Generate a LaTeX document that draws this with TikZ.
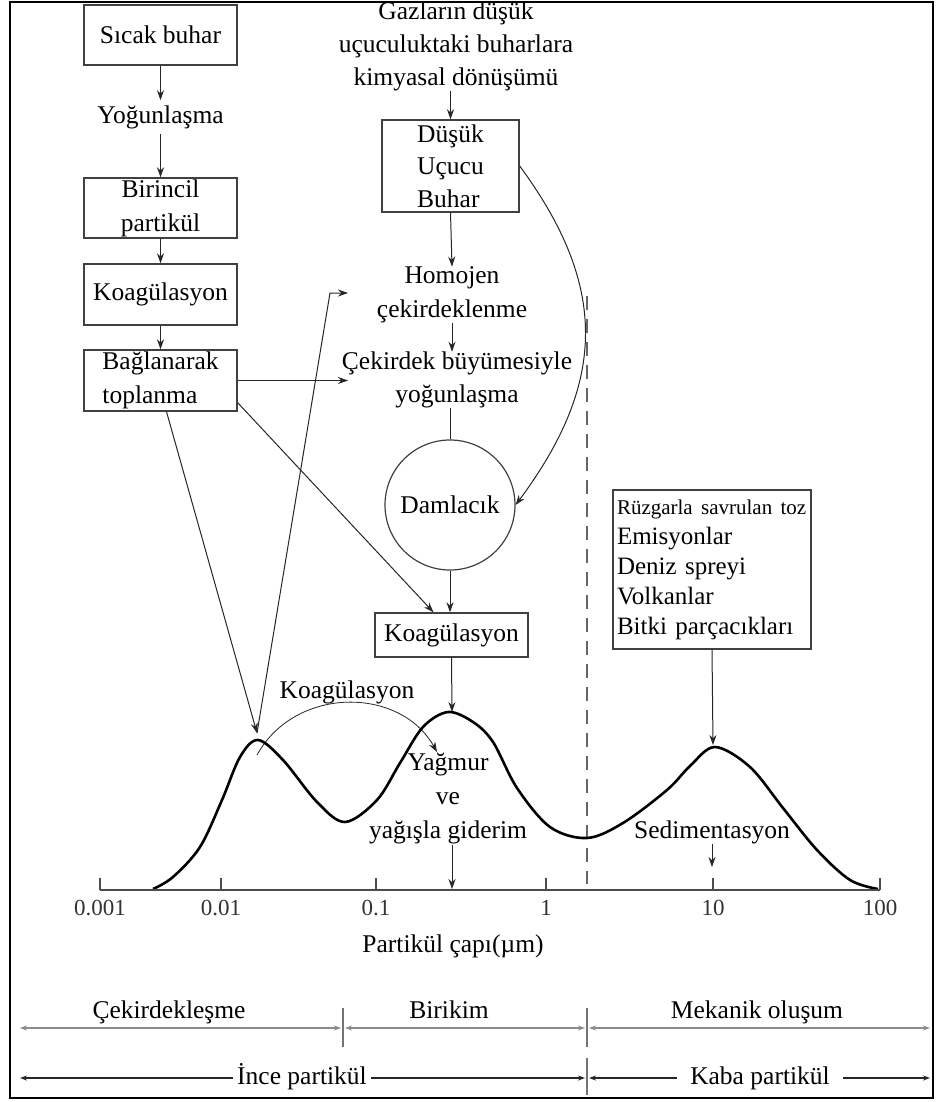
\documentclass[tikz,border=0pt]{standalone}
\usepackage{fontspec}
\setmainfont{Liberation Serif}
\usetikzlibrary{arrows.meta}
\begin{document}
\begin{tikzpicture}[x=1pt,y=-1pt,
  every node/.style={font=\fontsize{25.5}{33}\selectfont},
  lbl/.style={inner sep=0pt, align=center},
  blbl/.style={inner sep=0pt, anchor=base},
  boxn/.style={draw=black!75, line width=1.4pt, minimum width=153pt, inner sep=0pt, align=center},
  arr/.style={-{Stealth[length=10pt,width=7pt]}, line width=1pt, draw=black!85},
  ln/.style={line width=1pt, draw=black!85},
  rng/.style={{Stealth[length=7pt,width=5pt]}-{Stealth[length=7pt,width=5pt]}, line width=2.2pt, draw=black!45},
  rng2/.style={-{Stealth[length=7pt,width=5pt]}, line width=1.2pt, draw=black!85},
  tick/.style={line width=1.3pt, draw=black!55},
  axlbl/.style={inner sep=0pt, anchor=base, text=black!80, font=\fontsize{23}{28}\selectfont},
]
\useasboundingbox (0,0) rectangle (936,1102);
\draw[line width=2pt] (10,2) rectangle (933,1098);

% left column
\node[boxn, minimum height=60pt] (sicak) at (160.5,35) {Sıcak buhar};
\node[lbl, inner ysep=5pt] (yogun) at (160.5,117) {Yoğunlaşma};
\node[boxn, minimum height=60pt, font=\fontsize{25.5}{34}\selectfont] (birincil) at (160.5,208) {Birincil\\partikül};
\node[boxn, minimum height=61pt] (koag1) at (160.5,294.5) {Koagülasyon};
\node[boxn, minimum height=61pt, align=left, font=\fontsize{25.5}{34}\selectfont] (baglan) at (160.5,380.5) {Bağlanarak\\toplanma};

% middle column
\node[lbl] (gaz) at (456,46) {Gazların düşük\\uçuculuktaki buharlara\\kimyasal dönüşümü};
\node[boxn, minimum width=137pt, minimum height=92pt, align=left, font=\fontsize{25.5}{32.5}\selectfont] (dusuk) at (450.5,166) {Düşük\\Uçucu\\Buhar};
\node[lbl, font=\fontsize{25.5}{34}\selectfont] (homojen) at (452,295) {Homojen\\çekirdeklenme};
\node[lbl] (cekirdek) at (457,380) {Çekirdek büyümesiyle\\yoğunlaşma};
\node[circle, draw=black!75, line width=1.2pt, minimum size=130pt, inner sep=0pt] (damla) at (450,505) {Damlacık};
\node[boxn, minimum height=44pt] (koag2) at (451.5,635) {Koagülasyon};

% right box
\node[draw=black!75, line width=1.4pt, minimum width=198pt, minimum height=159pt, text width=190pt, inner xsep=4pt, align=left, font=\fontsize{25}{30}\selectfont] (kaynak) at (712,569.5) {\fontsize{21}{30}\selectfont Rüzgarla savrulan toz\\\fontsize{25}{30}\selectfont Emisyonlar\\Deniz spreyi\\Volkanlar\\Bitki parçacıkları};

% labels on graph
\node[lbl] (kl) at (347,692) {Koagülasyon};
\node[lbl, font=\fontsize{25.5}{34}\selectfont] (yagmur) at (448,799) {Yağmur\\ve\\yağışla giderim};
\node[lbl] (sed) at (712,832) {Sedimentasyon};

% coordinates
\coordinate (p1) at (257,733);
\coordinate (p2) at (452,712);
\coordinate (p3) at (713,745);
\coordinate (hb) at (330,293);
\coordinate (hin) at (348,293);
\coordinate (cin) at (348,380.5);
\coordinate (ks) at (257,755);
\coordinate (ke) at (437,752);
\coordinate (sedend) at (712,867);
\coordinate (x03) at (452,889);
\coordinate (dtop) at (587,296);
\coordinate (dbot) at (587,884);

% flow connectors
\draw[arr] (sicak.south) -- (yogun.north);
\draw[arr] (yogun.south) -- (birincil.north);
\draw[arr] (birincil.south) -- (koag1.north);
\draw[arr] (koag1.south) -- (baglan.north);
\draw[arr] (gaz.south -| dusuk.north) -- (dusuk.north);
\draw[arr] (dusuk.south) -- (homojen.north);
\draw[arr] (homojen.south) -- (homojen.south |- cekirdek.north);
\draw[ln] (cekirdek.south -| damla.north) -- (damla.north);
\draw[arr] (damla.south) -- (koag2.north -| damla.south);
\draw[arr] (koag2.south) -- (p2);
\draw[arr] (baglan.east) -- (cin);
\draw[arr] ([yshift=9pt]baglan.south east) -- ([xshift=-18pt]koag2.north);
\draw[arr] ([xshift=6pt]baglan.south) -- (p1);
\draw[arr] (p1) -- (hb) -- (hin);
\draw[arr] (dusuk.east) .. controls (608,286) and (607,382) .. (damla.east);
\draw[arr] (kaynak.south) -- (p3);
\draw[arr] (sed.south) -- (sedend);
\draw[arr] (yagmur.south -| x03) -- (x03);
\draw[arr, line width=0.8pt] (ks) .. controls (295,686) and (400,686) .. (ke);

% dashed divider
\draw[black!60, line width=1.2pt, dash pattern=on 14pt off 9pt] (dtop) -- (dbot);

% size distribution curve
\draw[line width=2.6pt, line join=round] plot[smooth, tension=0.55] coordinates {
(153,889) (173,877) (200,847) (222,800) (240,757) (258,740) (283,760) (317,802)
(345,822) (377,800) (400,763) (423,727) (448,712) (473,722) (493,742) (517,788)
(550,827) (587,838) (623,823) (667,790) (690,766) (715,747) (750,767) (783,808)
(817,850) (850,880) (878,889)};

% axis
\coordinate (ax0) at (100,890);
\coordinate (ax5) at (880,890);
\draw[line width=1.4pt, black!70] (ax0) -- (ax5);
\foreach \xx/\lab/\nm in {100/0.001/a, 221/0.01/b, 376/0.1/c, 546/1/d, 713/10/e, 880/100/f}{
  \draw[line width=1.4pt, black!70] (\xx,878) -- (\xx,890);
  \node[axlbl] (lab\nm) at (\xx,915) {\lab};
}
\node[blbl] (axtitle) at (453,952) {Partikül çapı(µm)};

% ranges row 1
\coordinate (r1a) at (20,1028);
\coordinate (r1b) at (341,1028);
\coordinate (r1c) at (345,1028);
\coordinate (r1d) at (585,1028);
\coordinate (r1e) at (589,1028);
\coordinate (r1f) at (930,1028);
\draw[rng] (r1a) -- (r1b);
\draw[rng] (r1c) -- (r1d);
\draw[rng] (r1e) -- (r1f);
\draw[tick] (343,1008) -- (343,1047);
\draw[tick] (587,1008) -- (587,1047);
\node[blbl] (cek) at (169,1018) {Çekirdekleşme};
\node[blbl] (bir) at (449,1018) {Birikim};
\node[blbl] (mek) at (757,1018) {Mekanik oluşum};

% ranges row 2
\coordinate (r2a) at (20,1078);
\coordinate (r2d) at (585,1078);
\coordinate (r2e) at (589,1078);
\coordinate (r2f) at (930,1078);
\node[blbl, inner xsep=4pt] (ince) at (302,1084) {İnce partikül};
\node[blbl, inner xsep=13pt] (kaba) at (760,1084) {Kaba partikül};
\draw[rng2] (ince.west |- r2a) -- (r2a);
\draw[rng2] (ince.east |- r2d) -- (r2d);
\draw[rng2] (kaba.west |- r2e) -- (r2e);
\draw[rng2] (kaba.east |- r2f) -- (r2f);
\draw[tick] (587,1058) -- (587,1095);
\end{tikzpicture}
\end{document}
